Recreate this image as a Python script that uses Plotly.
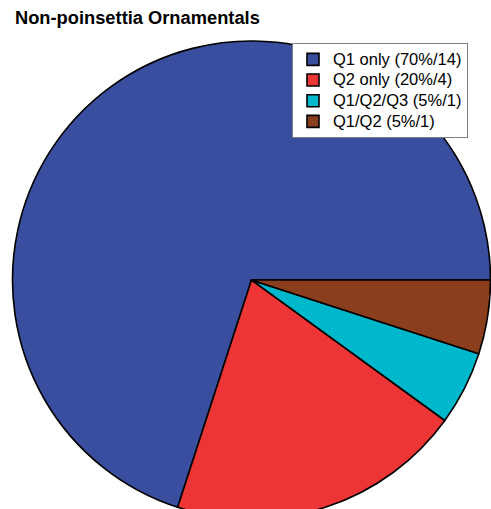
import plotly.graph_objects as go

labels = ["Q1 only (70%/14)", "Q2 only (20%/4)", "Q1/Q2/Q3 (5%/1)", "Q1/Q2 (5%/1)"]
values = [14, 4, 1, 1]
colors = ["#3A4EA0", "#EE3535", "#00B8CC", "#8A3E1E"]

legend_labels = [f"<span style='font-size:16.5px'>{l}</span>" for l in labels]

fig = go.Figure(go.Pie(
    labels=legend_labels, values=values, sort=False,
    direction="counterclockwise", rotation=198,
    marker=dict(colors=colors, line=dict(color="black", width=1.6)),
    textinfo="none", hoverinfo="none",
))
fig.update_layout(
    width=491, height=519,
    margin=dict(l=12, r=0, t=41, b=0),
    paper_bgcolor="white",
    title=dict(text="<b>Non-poinsettia Ornamentals</b>", x=15/491, xanchor="left",
               y=1 - 18/519, yanchor="middle",
               font=dict(family="Liberation Sans, Arial", size=18.3, color="black")),
    legend=dict(x=(292 - 12) / 479, y=1 + (41 - 43) / 478, xanchor="left", yanchor="top",
                bgcolor="white", bordercolor="#808080", borderwidth=1,
                font=dict(family="Liberation Sans, Arial", size=13.6, color="black"),
                tracegroupgap=0),
)
fig.write_html("out.html", config={"displayModeBar": False},
               post_script="document.body.style.margin='0';document.body.style.overflow='hidden';")
